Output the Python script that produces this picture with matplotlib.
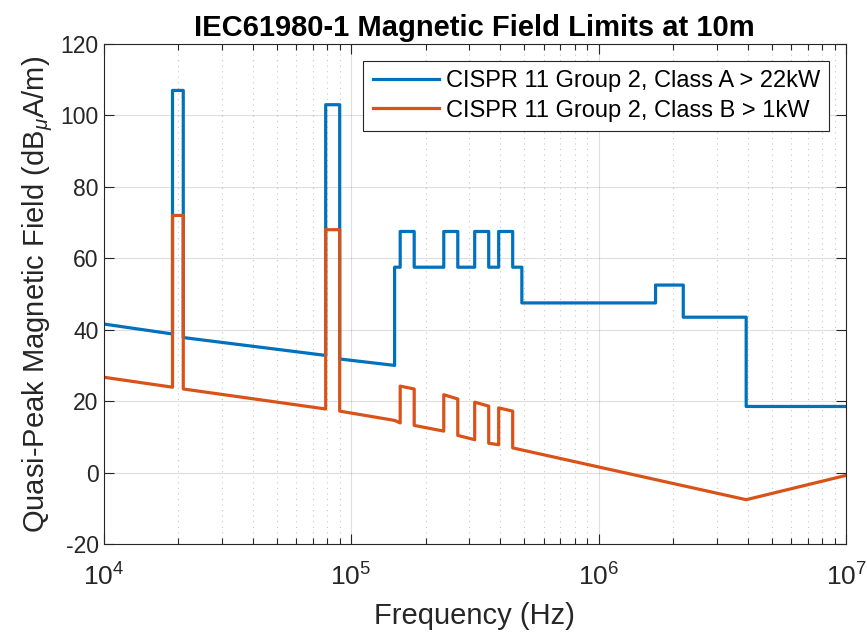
import matplotlib
matplotlib.use('Agg')
import matplotlib.pyplot as plt
from matplotlib.ticker import LogLocator, NullFormatter

plt.rcParams['font.family'] = ['Liberation Sans', 'DejaVu Sans']
plt.rcParams['mathtext.fontset'] = 'custom'
plt.rcParams['mathtext.rm'] = 'Liberation Sans'
plt.rcParams['mathtext.it'] = 'Liberation Sans:italic'
plt.rcParams['axes.unicode_minus'] = False

# Class A limit (corner points)
freq_a = [1e4, 19e3, 19e3, 21e3, 21e3, 79e3, 79e3, 90e3, 90e3, 150e3, 150e3,
          158e3, 158e3, 180e3, 180e3, 237e3, 237e3, 270e3, 270e3, 316e3, 316e3,
          360e3, 360e3, 395e3, 395e3, 450e3, 450e3, 490e3, 490e3, 1.7e6, 1.7e6,
          2.2e6, 2.2e6, 3.95e6, 3.95e6, 1e7]
limit_a = [41.6, 38.8, 107, 107, 37.8, 32.8, 103, 103, 31.8, 30.0, 57.5,
           57.5, 67.5, 67.5, 57.5, 57.5, 67.5, 67.5, 57.5, 57.5, 67.5,
           67.5, 57.5, 57.5, 67.5, 67.5, 57.5, 57.5, 47.5, 47.5, 52.5,
           52.5, 43.5, 43.5, 18.5, 18.5]

# Class B limit
freq_b = [1e4, 19e3, 19e3, 21e3, 21e3, 79e3, 79e3, 90e3, 90e3, 150e3,
          158e3, 158e3, 180e3, 180e3, 237e3, 237e3, 270e3, 270e3, 316e3, 316e3,
          360e3, 360e3, 395e3, 395e3, 450e3, 450e3, 3.95e6, 1e7]
limit_b = [26.7, 23.9, 72, 72, 23.4, 17.8, 68, 68, 17.2, 14.6,
           13.9, 24.2, 23.4, 13.2, 11.6, 21.8, 20.6, 10.4, 9.2, 19.7,
           18.6, 8.2, 7.8, 18.1, 17.2, 6.9, -7.6, -0.8]

labels = ['CISPR 11 Group 2, Class A > 22kW', 'CISPR 11 Group 2, Class B > 1kW']
yticks = [-20, 0, 20, 40, 60, 80, 100, 120]

fig = plt.figure(figsize=(8.67, 6.34), dpi=100)
ax = fig.add_axes([0.1194, 0.142, 0.8564, 0.7886])

ax.plot(freq_a, limit_a, color='#0072BD', lw=2.3, label=labels[0])
ax.plot(freq_b, limit_b, color='#D95319', lw=2.3, label=labels[1])

ax.set_xscale('log')
ax.set_xlim(1e4, 1e7)
ax.set_ylim(-20, 120)
ax.set_yticks(yticks)
ax.xaxis.set_minor_locator(LogLocator(base=10, subs=range(2, 10)))
ax.xaxis.set_minor_formatter(NullFormatter())

ax.grid(True, which='major', color='#262626', alpha=0.15, lw=0.8)
ax.grid(True, which='minor', axis='x', color='#262626', alpha=0.25, lw=0.8, linestyle=(0, (1, 4)))
ax.tick_params(which='both', direction='in', top=True, right=True, colors='#262626',
               labelsize=16.5)
ax.tick_params(axis='x', labelsize=19, pad=14)
ax.tick_params(which='major', length=7, width=0.8)
ax.tick_params(which='minor', length=4, width=0.8)
for s in ax.spines.values():
    s.set_color('#262626')
    s.set_linewidth(0.8)

ax.set_title('IEC61980-1 Magnetic Field Limits at 10m', fontsize=21, fontweight='bold', pad=6)
ax.set_xlabel('Frequency (Hz)', fontsize=21, color='#262626', labelpad=8)
ax.set_ylabel(r'Quasi-Peak Magnetic Field (dB$_\mu$A/m)', fontsize=21, color='#262626')

leg = ax.legend(loc='upper right', fontsize=17, fancybox=False, framealpha=1,
                edgecolor='#262626', handlelength=2.8, borderaxespad=0.7,
                borderpad=0.4, labelspacing=0.32, handletextpad=0.3)
leg.get_frame().set_linewidth(0.8)

fig.savefig('out.png', dpi=100)
